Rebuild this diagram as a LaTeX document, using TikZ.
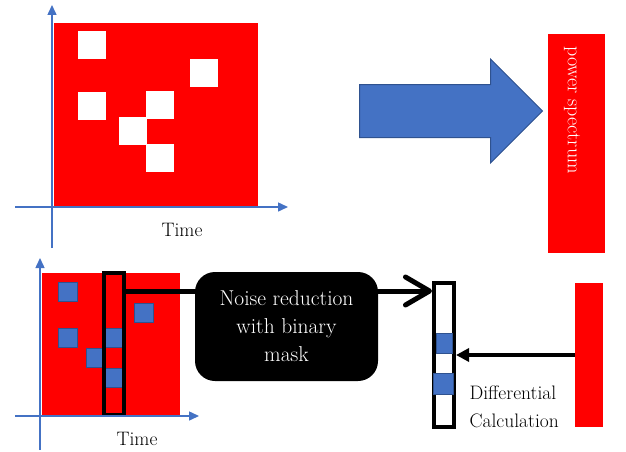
\documentclass[tikz,border=0pt]{standalone}
\usepackage{fontspec}
\usetikzlibrary{arrows.meta,shapes.arrows}

\begin{document}
\begin{tikzpicture}[x=1pt,y=-1pt,every node/.style={font=\fontsize{19.5}{28}\selectfont}]
		% Define colors
		\definecolor{specred}{RGB}{255, 0, 0}
		\definecolor{binblue}{RGB}{68, 114, 196}
		\definecolor{binedge}{RGB}{47, 82, 143}

		% Styles
		\tikzstyle{axis_line} = [draw=binblue, line width=1.5pt, -{Triangle[length=10pt,width=9pt]}]
		\tikzstyle{hole_box} = [fill=white, inner sep=0pt, minimum size=28pt]
		\tikzstyle{bin_box} = [fill=binblue, draw=binedge, line width=1pt, inner sep=0pt, minimum size=19pt]
		\tikzstyle{frame_col} = [draw=black, line width=4pt, inner sep=0pt, minimum width=20pt]
		\tikzstyle{thick_link} = [draw=black, line width=5pt]
		\tikzstyle{spec_bar} = [fill=specred, inner sep=0pt]

		\useasboundingbox (0,0) rectangle (626,452);

		% Spectrogram with holes (top)
		\fill[specred] (54,23) rectangle (258,206);
		\foreach \x/\y [count=\i] in {91.5/45.5, 204/73, 91.5/105.5, 160/105, 133/131, 160/158}
			\node[hole_box] (hole\i) at (\x,\y) {};
		\draw[axis_line] (52,248) -- (52,5);
		\draw[axis_line] (15,207) -- (288,207);
		\node (time_top) at (182,230) {Time};

		% Block arrow and power spectrum
		\node[single arrow, fill=binblue, draw=binedge, line width=1pt, inner sep=0pt,
			text height=26pt, text depth=26pt, minimum height=183pt,
			single arrow head extend=25.5pt, anchor=tail] (bigarrow) at (359,111) {};
		\node[spec_bar, minimum width=57pt, minimum height=219pt] (pbar) at (576.5,143.5) {};
		\node[text=white, rotate=-90, font=\fontsize{20}{28}\selectfont] (ptext) at (572,110) {power spectrum};

		% Spectrogram with binary bins (bottom)
		\fill[specred] (42,273) rectangle (180,416);
		\foreach \x/\y [count=\i] in {67.5/291.5, 143.5/312.5, 67.5/338, 95.5/358, 114/338, 114/378}
			\node[bin_box] (bin\i) at (\x,\y) {};
		\node[frame_col, minimum height=142pt] (col) at (114,344) {};
		\draw[axis_line] (40,450) -- (40,258);
		\draw[axis_line] (15,416) -- (199,416);
		\node (time_bot) at (137,439) {Time};

		% Masked column
		\node[frame_col, fill=white, minimum height=144pt] (rcol) at (444,355) {};
		\node[bin_box, minimum width=16pt, minimum height=20pt] (rbin1) at (444,343) {};
		\node[bin_box, minimum width=20pt, minimum height=21pt] (rbin2) at (443,383.5) {};

		% Column goes through the noise reduction step
		\coordinate (link_end) at ([yshift=-10pt]rcol.north west);
		\draw[thick_link, -{Straight Barb[length=24pt,width=28pt,round]}] (col.east |- link_end) -- (link_end);
		\node[fill=black, rounded corners=20pt, minimum width=183pt, minimum height=109pt,
			text=white, align=center, font=\fontsize{21.5}{28}\selectfont] (mask) at (286.5,326.5)
			{Noise reduction\\with binary\\mask};

		% Differential calculation
		\node[spec_bar, minimum width=28pt, minimum height=144pt] (dbar) at (589,355) {};
		\draw[line width=4pt, -{Triangle[length=13pt,width=13pt]}] (dbar.west) -- (dbar.west -| rcol.east);
		\node[anchor=west, align=left] (difftext) at (466,407) {Differential\\Calculation};

	\end{tikzpicture}
\end{document}
